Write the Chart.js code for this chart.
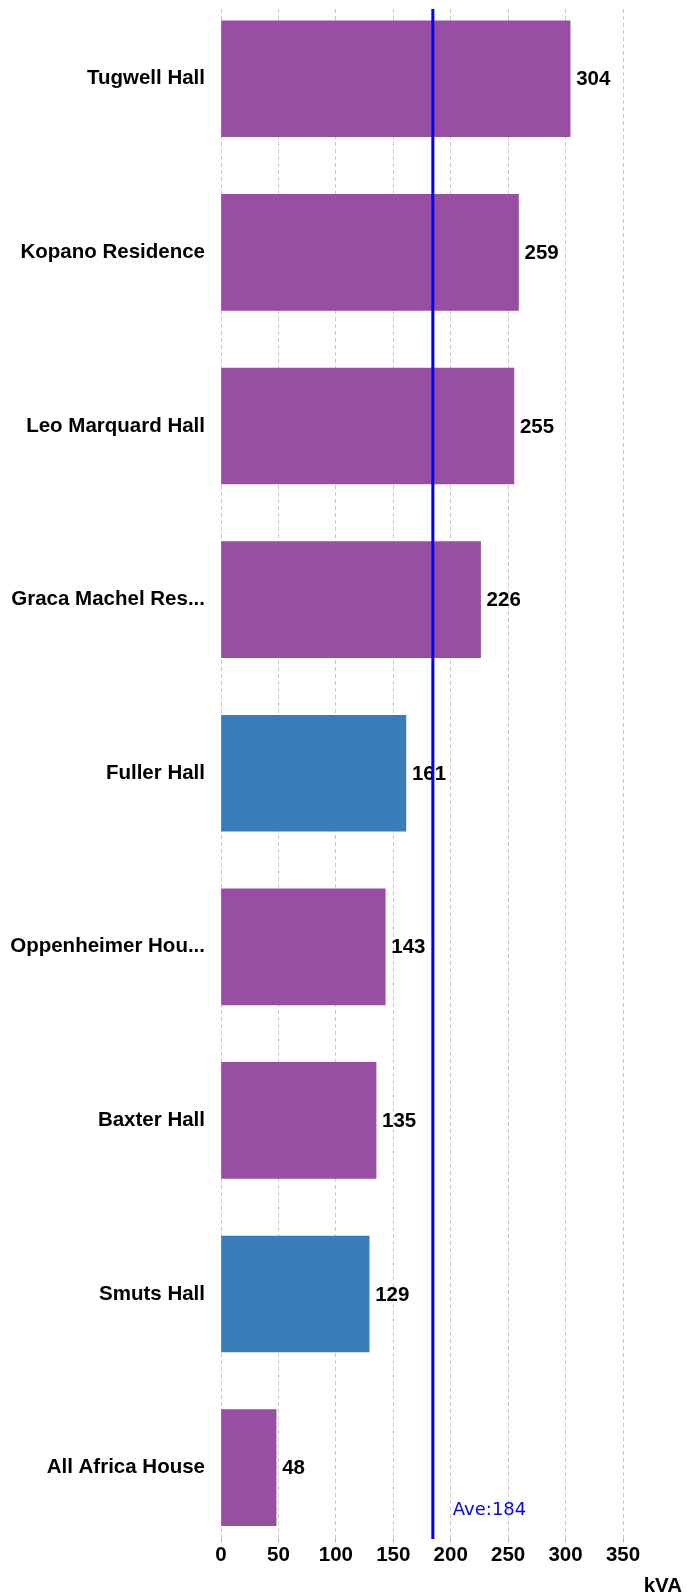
<!DOCTYPE html>
<html>
<head>
<meta charset="utf-8">
<script src="https://cdn.jsdelivr.net/npm/chart.js@4/dist/chart.umd.min.js"></script>
<style>
  body { margin: 0; background: #fff; }
  #myChart { display: block; }
</style>
</head>
<body>
<canvas id="myChart" width="687" height="1593"></canvas>
<script>
const categories = ['Tugwell Hall', 'Kopano Residence', 'Leo Marquard Hall', 'Graca Machel Res...',
    'Fuller Hall', 'Oppenheimer Hou...', 'Baxter Hall', 'Smuts Hall', 'All Africa House'];
const kva = [304, 259, 255, 226, 161, 143, 135, 129, 48];
const highlighted = ['Fuller Hall', 'Smuts Hall'];
const xTicks = [0, 50, 100, 150, 200, 250, 300, 350];
const unitLabel = 'kVA';

const purple = '#984ea3';
const blue = '#377eb8';
const average = kva.reduce((a, b) => a + b, 0) / kva.length;
const labelFont = 'bold 20.5px "Liberation Sans", Arial, sans-serif';

const barLabels = {
    id: 'barLabels',
    afterDatasetsDraw(chart) {
        const ctx = chart.ctx;
        const meta = chart.getDatasetMeta(0);
        ctx.save();
        ctx.font = labelFont;
        ctx.fillStyle = '#000';
        ctx.textAlign = 'left';
        ctx.textBaseline = 'middle';
        meta.data.forEach((bar, i) => {
            ctx.fillText(String(kva[i]), bar.x + 6, bar.y + 1);
        });
        ctx.restore();
    },
    afterDraw(chart) {
        const ctx = chart.ctx;
        const area = chart.chartArea;
        const x = chart.scales.x.getPixelForValue(average);
        ctx.save();
        ctx.strokeStyle = '#0000ff';
        ctx.lineWidth = 3;
        ctx.beginPath();
        ctx.moveTo(x, area.top);
        ctx.lineTo(x, area.bottom);
        ctx.stroke();
        ctx.fillStyle = '#0000ff';
        ctx.font = '18px "DejaVu Sans", sans-serif';
        ctx.textAlign = 'left';
        ctx.textBaseline = 'middle';
        ctx.fillText('Ave:' + Math.round(average), x + 20, area.bottom - 29);
        // axis unit at the bottom right
        ctx.fillStyle = '#000';
        ctx.font = labelFont;
        ctx.textAlign = 'right';
        ctx.textBaseline = 'alphabetic';
        ctx.fillText(unitLabel, 682, 1592);
        ctx.restore();
    }
};

const chartElement = document.getElementById('myChart');
new Chart(chartElement, {
    type: 'bar',
    data: {
        datasets: [{
            data: kva.map((v, i) => ({ x: v, y: i })),
            backgroundColor: categories.map(c => highlighted.includes(c) ? blue : purple),
            borderWidth: 0,
            barThickness: 116
        }]
    },
    options: {
        indexAxis: 'y',
        responsive: false,
        animation: false,
        layout: { padding: { top: 9, right: 64, bottom: 0, left: 0 } },
        plugins: {
            legend: { display: false },
            tooltip: { enabled: false }
        },
        scales: {
            x: {
                type: 'linear',
                min: 0,
                max: 350,
                afterBuildTicks: scale => { scale.ticks = xTicks.map(v => ({ value: v })); },
                afterFit: scale => { scale.height = 54; scale.paddingLeft = 0; scale.paddingRight = 0; },
                grid: {
                    color: '#c8c8c8',
                    lineWidth: 1,
                    tickColor: '#f5a04a',
                    tickLength: 3,
                    tickBorderDash: [],
                    drawOnChartArea: true
                },
                border: { display: false, dash: [4, 3] },
                ticks: {
                    padding: 1,
                    color: '#000',
                    font: { family: '"Liberation Sans", Arial, sans-serif', size: 20.5, weight: 'bold' }
                }
            },
            y: {
                type: 'linear',
                reverse: true,
                offset: false,
                min: -0.402,
                max: 8.411,
                afterFit: scale => { scale.width = 221; scale.paddingTop = 0; scale.paddingBottom = 0; },
                grid: { display: false, drawTicks: false },
                border: { display: false },
                ticks: {
                    stepSize: 1,
                    includeBounds: false,
                    autoSkip: false,
                    padding: 16,
                    color: '#000',
                    font: { family: '"Liberation Sans", Arial, sans-serif', size: 20.5, weight: 'bold' },
                    callback: value => categories[value] ?? ''
                }
            }
        }
    },
    plugins: [barLabels]
});
</script>
</body>
</html>
